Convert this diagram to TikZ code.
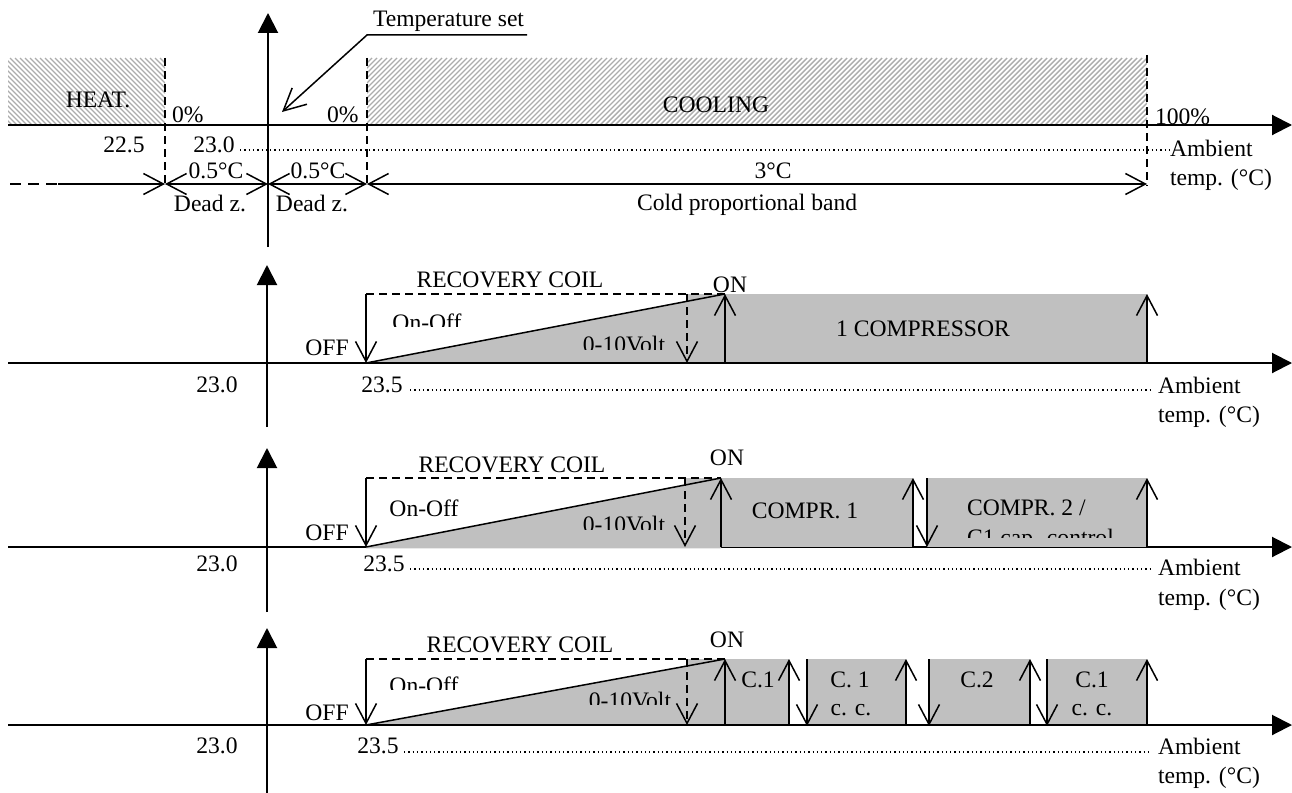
\documentclass[tikz,border=0pt]{standalone}
\usepackage{fontspec}
\setmainfont{Liberation Serif}
\usetikzlibrary{arrows.meta}
\definecolor{fillgray}{RGB}{192,192,192}
\definecolor{hatchgray}{RGB}{172,172,172}
\begin{document}
\begin{tikzpicture}[x=1pt,y=-1pt,
  every node/.style={font=\fontsize{23.6}{28}\selectfont, inner sep=0pt, outer sep=0pt},
  axisline/.style={line width=2pt, -{Triangle[length=20pt,width=20pt]}},
  normline/.style={line width=1.5pt},
  barb/.style={-{Straight Barb[length=20pt,width=21pt]}},
  barbs/.style={{Straight Barb[length=20pt,width=21pt]}-{Straight Barb[length=20pt,width=21pt]}},
  dashln/.style={line width=1.5pt, dash pattern=on 8pt off 5pt},
  dotln/.style={line width=1.3pt, dash pattern=on 1.3pt off 3pt},
  hatchln/.style={hatchgray, line width=1.4pt},
  lbl/.style={anchor=base},
  lblw/.style={anchor=base west},
]
\useasboundingbox (0,0) rectangle (1292,792);

% ================= TOP PANEL =================
\begin{scope}
  \clip (8,58) rectangle (165,125);
  \foreach \i in {-80,-75,...,170} \draw[hatchln] (\i,58) -- ++(67,67);
\end{scope}
\begin{scope}
  \clip (367,58) rectangle (1147,125);
  \foreach \i in {300,305,...,1150} \draw[hatchln] (\i,125) -- ++(67,-67);
\end{scope}

\coordinate (h1) at (165,58);  \coordinate (h1b) at (165,184);
\coordinate (c1) at (367,58);  \coordinate (c1b) at (367,184);
\coordinate (c2) at (1147,55); \coordinate (c2b) at (1147,186);
\draw[dashln] (h1) -- (h1b);
\draw[dashln] (c1) -- (c1b);
\draw[dashln] (c2) -- (c2b);

\coordinate (ax0a) at (8,125);   \coordinate (ax0b) at (1292,125);
\coordinate (ay0a) at (268,247); \coordinate (ay0b) at (268,13);
\draw[axisline] (ax0a) -- (ax0b);
\draw[axisline] (ay0a) -- (ay0b);

\coordinate (dt0a) at (240,150); \coordinate (dt0b) at (1170,150);
\draw[dotln] (dt0a) -- (dt0b);

% dimension line
\coordinate (d0) at (10,184); \coordinate (d1) at (58,184);
\coordinate (d2) at (165,184); \coordinate (d3) at (268,184);
\coordinate (d4) at (367,184); \coordinate (d5) at (1147,184);
\draw[line width=1.5pt, dash pattern=on 11pt off 7pt] (d0) -- (d1);
\draw[normline, barb] (d1) -- (d2);
\draw[normline, barbs] (d2) -- (d3);
\draw[normline, barbs] (d3) -- (d4);
\draw[normline, barbs] (d4) -- (d5);

% temperature set
\node[lblw] (tset) at (373,27) {Temperature set};
\coordinate (u1) at (527,35); \coordinate (u2) at (367,35); \coordinate (u3) at (282,112);
\draw[normline, -{Straight Barb[length=22pt,width=22pt]}] (u1) -- (u2) -- (u3);

% top labels
\node[lbl]  (heat) at (98,107) {HEAT.};
\node[lblw] (zp1) at (172,122) {0\%};
\node[lblw] (zp2) at (327,122) {0\%};
\node[lbl]  (cool) at (716,112) {COOLING};
\node[lblw] (hp) at (1155,124) {100\%};
\node[lbl]  (n225) at (124,152) {22.5};
\node[lbl]  (n230) at (214,152) {23.0};
\node[lblw] (amb0) at (1170,156) {Ambient};
\node[lblw] (tmp0) at (1170,185) {temp. (°C)};
\node[lbl]  (dz1) at (216,178) {0.5°C};
\node[lbl]  (dz2) at (318,178) {0.5°C};
\node[lbl]  (cpb) at (773,178) {3°C};
\node[lbl]  (dn1) at (210,211) {Dead z.};
\node[lbl]  (dn2) at (312,211) {Dead z.};
\node[lblw] (cpn) at (637,210) {Cold proportional band};

% ================= PANEL 2 =================
\begin{scope}[shift={(0,363)}]
  \fill[fillgray] (366,0) -- (687,-61.7) -- (687,-69) -- (1147,-69) -- (1147,0) -- cycle;
  \coordinate (p2xa) at (8,0);    \coordinate (p2xb) at (1292,0);
  \coordinate (p2ya) at (267,64); \coordinate (p2yb) at (267,-98);
  \draw[axisline] (p2xa) -- (p2xb);
  \draw[axisline] (p2ya) -- (p2yb);
  \coordinate (p2off) at (366,0);   \coordinate (p2offt) at (366,-69);
  \coordinate (p2on) at (725,0);    \coordinate (p2ont) at (725,-69);
  \coordinate (p2v) at (687,0);     \coordinate (p2vt) at (687,-69);
  \coordinate (p2e) at (1147,0);    \coordinate (p2et) at (1147,-69);
  \draw[dashln] (p2offt) -- (p2ont);
  \draw[normline] (p2off) -- (p2ont);
  \draw[normline, barb] (p2offt) -- (p2off);
  \draw[dashln, barb] (p2vt) -- (p2v);
  \draw[normline, barb] (p2on) -- (p2ont);
  \draw[normline, barb] (p2e) -- (p2et);
  \coordinate (p2da) at (410,27); \coordinate (p2db) at (1152,27);
  \draw[dotln] (p2da) -- (p2db);
  \node[lbl] (p2rc) at (510,-76) {RECOVERY COIL};
  \node[lbl] (p2onl) at (730,-71) {ON};
  \node[lbl] (p2offl) at (327,-8) {OFF};
  \begin{scope}
    \clip (380,-70) rectangle (480,-37);
    \node[lbl] (p2oo) at (427,-33) {On-Off};
  \end{scope}
  \begin{scope}
    \clip (570,-50) rectangle (680,-14);
    \node[lbl] (p2vl) at (624,-11) {0-10Volt};
  \end{scope}
  \node[lbl] (p2cmp) at (923,-27) {1 COMPRESSOR};
  \node[lbl] (p2n1) at (217,29) {23.0};
  \node[lbl] (p2n2) at (382,29) {23.5};
  \node[lblw] (p2amb) at (1158,30) {Ambient};
  \node[lblw] (p2tmp) at (1158,59) {temp. (°C)};
\end{scope}

% ================= PANEL 3 =================
\begin{scope}[shift={(0,547)}]
  \coordinate (p3xa) at (8,0);    \coordinate (p3xb) at (1292,0);
  \coordinate (p3ya) at (267,65); \coordinate (p3yb) at (267,-99);
  \draw[axisline] (p3xa) -- (p3xb);
  \draw[axisline] (p3ya) -- (p3yb);
  \fill[fillgray] (366,1.3) -- (366,0) -- (685,-62) -- (685,-69) -- (721,-69) -- (721,1.3) -- cycle;
  \fill[fillgray] (721,-69) rectangle (913,0);
  \fill[fillgray] (927,-69) rectangle (1147,0);
  \coordinate (p3off) at (366,0);   \coordinate (p3offt) at (366,-69);
  \coordinate (p3on) at (721,0);    \coordinate (p3ont) at (721,-69);
  \coordinate (p3v) at (685,0);     \coordinate (p3vt) at (685,-69);
  \coordinate (p3u1) at (913,0);    \coordinate (p3u1t) at (913,-69);
  \coordinate (p3d1) at (927,0);    \coordinate (p3d1t) at (927,-69);
  \coordinate (p3e) at (1147,0);    \coordinate (p3et) at (1147,-69);
  \draw[dashln] (p3offt) -- (p3ont);
  \draw[normline] (p3off) -- (p3ont);
  \draw[normline, barb] (p3offt) -- (p3off);
  \draw[dashln, barb] (p3vt) -- (p3v);
  \draw[normline, barb] (p3on) -- (p3ont);
  \draw[normline, barb] (p3u1) -- (p3u1t);
  \draw[normline, barb] (p3d1t) -- (p3d1);
  \draw[normline, barb] (p3e) -- (p3et);
  \coordinate (p3da) at (410,22); \coordinate (p3db) at (1152,22);
  \draw[dotln] (p3da) -- (p3db);
  \node[lbl] (p3rc) at (512,-75) {RECOVERY COIL};
  \node[lbl] (p3onl) at (727,-82) {ON};
  \node[lbl] (p3offl) at (327,-7) {OFF};
  \node[lbl] (p3oo) at (424,-31) {On-Off};
  \begin{scope}
    \clip (570,-50) rectangle (680,-18);
    \node[lbl] (p3vl) at (624,-15) {0-10Volt};
  \end{scope}
  \node[lbl] (p3c1) at (805,-29) {COMPR. 1};
  \node[lblw] (p3c2) at (967,-32) {COMPR. 2 /};
  \begin{scope}
    \clip (960,-22) rectangle (1140,-10);
    \node[lblw] (p3c2b) at (967,-2) {C1 cap. control};
  \end{scope}
  \node[lbl] (p3n1) at (217,24) {23.0};
  \node[lbl] (p3n2) at (384,24) {23.5};
  \node[lblw] (p3amb) at (1158,28) {Ambient};
  \node[lblw] (p3tmp) at (1158,58) {temp. (°C)};
\end{scope}

% ================= PANEL 4 =================
\begin{scope}[shift={(0,725)}]
  \fill[fillgray] (366,0) -- (687,-59) -- (687,-66) -- (725,-66) -- (725,0) -- cycle;
  \fill[fillgray] (725,-66) rectangle (789,0);
  \fill[fillgray] (807,-66) rectangle (906,0);
  \fill[fillgray] (929,-66) rectangle (1030,0);
  \fill[fillgray] (1047,-66) rectangle (1147,0);
  \coordinate (p4xa) at (8,0);    \coordinate (p4xb) at (1292,0);
  \coordinate (p4ya) at (267,70); \coordinate (p4yb) at (267,-97);
  \draw[axisline] (p4xa) -- (p4xb);
  \draw[axisline] (p4ya) -- (p4yb);
  \coordinate (p4off) at (366,0);   \coordinate (p4offt) at (366,-66);
  \coordinate (p4on) at (725,0);    \coordinate (p4ont) at (725,-66);
  \coordinate (p4v) at (687,0);     \coordinate (p4vt) at (687,-66);
  \draw[dashln] (p4offt) -- (p4ont);
  \draw[normline] (p4off) -- (p4ont);
  \draw[normline, barb] (p4offt) -- (p4off);
  \draw[dashln, barb] (p4vt) -- (p4v);
  \draw[normline, barb] (p4on) -- (p4ont);
  \foreach \ux [count=\k] in {789,906,1030,1147} {
    \coordinate (p4u\k) at (\ux,0); \coordinate (p4u\k t) at (\ux,-66);
    \draw[normline, barb] (p4u\k) -- (p4u\k t);
  }
  \foreach \dx [count=\k] in {807,929,1047} {
    \coordinate (p4d\k) at (\dx,1); \coordinate (p4d\k t) at (\dx,-66);
    \draw[normline, barb] (p4d\k t) -- (p4d\k);
  }
  \coordinate (p4da) at (404,27); \coordinate (p4db) at (1152,27);
  \draw[dotln] (p4da) -- (p4db);
  \node[lbl] (p4rc) at (520,-73) {RECOVERY COIL};
  \node[lbl] (p4onl) at (727,-78) {ON};
  \node[lbl] (p4offl) at (327,-5) {OFF};
  \begin{scope}
    \clip (380,-70) rectangle (480,-36);
    \node[lbl] (p4oo) at (424,-32) {On-Off};
  \end{scope}
  \begin{scope}
    \clip (570,-50) rectangle (684,-21);
    \node[lbl] (p4vl) at (630,-17) {0-10Volt};
  \end{scope}
  \node[lbl] (p4b1) at (758,-38) {C.1};
  \node[lbl] (p4b2) at (850,-38) {C. 1};
  \node[lbl] (p4b2s) at (851,-10) {c. c.};
  \node[lbl] (p4b3) at (977,-38) {C.2};
  \node[lbl] (p4b4) at (1092,-38) {C.1};
  \node[lbl] (p4b4s) at (1092,-10) {c. c.};
  \node[lbl] (p4n1) at (217,28) {23.0};
  \node[lbl] (p4n2) at (378,28) {23.5};
  \node[lblw] (p4amb) at (1158,29) {Ambient};
  \node[lblw] (p4tmp) at (1158,58) {temp. (°C)};
\end{scope}
\end{tikzpicture}
\end{document}
